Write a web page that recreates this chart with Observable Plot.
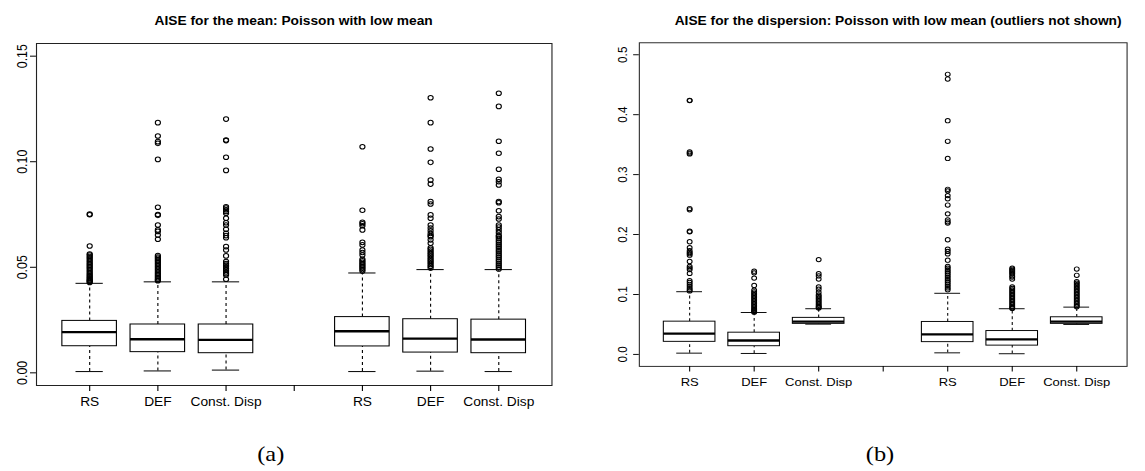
<!DOCTYPE html>
<html><head><meta charset="utf-8">
<script src="https://cdn.jsdelivr.net/npm/d3@7"></script>
<script src="https://cdn.jsdelivr.net/npm/@observablehq/plot@0.6"></script>
<style>
html,body{margin:0;padding:0;background:#fff;overflow:hidden;width:1145px;height:471px;}
#stage{position:absolute;left:0;top:0;width:1032px;height:471px;transform:scaleX(1.1097);transform-origin:0 0;font-family:"Liberation Sans",Arial,sans-serif;color:#000;}
.title{position:absolute;top:13px;font-weight:bold;font-size:12.4px;text-align:center;line-height:16px;white-space:nowrap;}
.cap{position:absolute;top:441px;font-family:"Liberation Serif","Times New Roman",serif;font-size:22px;line-height:26px;text-align:center;width:80px;}
.panel{position:absolute;top:30px;}
</style>
</head><body>
<div id="stage">
  <div class="title" id="titleA" style="left:32.4px;width:464.5px;">AISE for the mean: Poisson with low mean</div>
  <div class="title" id="titleB" style="left:577.1px;width:464.5px;">AISE for the dispersion: Poisson with low mean (outliers not shown)</div>
  <div class="panel" id="panelA" style="left:0px;"></div>
  <div class="panel" id="panelB" style="left:544.7px;"></div>
  <div class="cap" style="left:204px;">(a)</div>
  <div class="cap" style="left:753px;">(b)</div>
</div>
<script>
// ---------- data ----------
const groupLabels = ["RS", "DEF", "Const. Disp", "RS", "DEF", "Const. Disp"];

// Panel (a): AISE for the mean
const meanLower  = [0.0006, 0.0009, 0.0013, 0.0006, 0.0008, 0.0006];
const meanQ1     = [0.0126, 0.0098, 0.0093, 0.0125, 0.0096, 0.0093];
const meanMedian = [0.0193, 0.0159, 0.0156, 0.0197, 0.0162, 0.0158];
const meanQ3     = [0.0246, 0.0229, 0.0229, 0.0264, 0.0254, 0.0252];
const meanUpper  = [0.0424, 0.0431, 0.0431, 0.0473, 0.0489, 0.0489];
const meanOutliers = [
  [0.0752, 0.0749, 0.0601, 0.0563, 0.0558, 0.0551, 0.0545, 0.0538, 0.0531, 0.0524, 0.0517, 0.0510, 0.0503, 0.0496, 0.0489, 0.0482, 0.0475, 0.0468, 0.0462, 0.0456, 0.0450, 0.0445, 0.0440, 0.0436, 0.0432, 0.0428],
  [0.1185, 0.1122, 0.1095, 0.1087, 0.1011, 0.0784, 0.0750, 0.0746, 0.0700, 0.0677, 0.0670, 0.0653, 0.0633, 0.0555, 0.0549, 0.0542, 0.0535, 0.0528, 0.0521, 0.0514, 0.0507, 0.0500, 0.0493, 0.0486, 0.0479, 0.0472, 0.0465, 0.0458, 0.0451, 0.0445, 0.0440, 0.0436],
  [0.1202, 0.1103, 0.1100, 0.1021, 0.0959, 0.0787, 0.0780, 0.0772, 0.0764, 0.0756, 0.0732, 0.0711, 0.0700, 0.0680, 0.0661, 0.0650, 0.0640, 0.0598, 0.0582, 0.0554, 0.0527, 0.0518, 0.0510, 0.0502, 0.0494, 0.0486, 0.0478, 0.0470, 0.0464, 0.0443],
  [0.1071, 0.0770, 0.0713, 0.0706, 0.0697, 0.0677, 0.0618, 0.0606, 0.0582, 0.0570, 0.0558, 0.0538, 0.0531, 0.0524, 0.0517, 0.0510, 0.0503, 0.0496, 0.0489, 0.0482],
  [0.1303, 0.1185, 0.1060, 0.0997, 0.0913, 0.0894, 0.0811, 0.0800, 0.0748, 0.0732, 0.0700, 0.0686, 0.0673, 0.0660, 0.0650, 0.0645, 0.0630, 0.0614, 0.0592, 0.0585, 0.0577, 0.0569, 0.0561, 0.0553, 0.0545, 0.0537, 0.0529, 0.0521, 0.0513, 0.0505, 0.0497],
  [0.1324, 0.1262, 0.1097, 0.1040, 0.0964, 0.0917, 0.0905, 0.0890, 0.0811, 0.0806, 0.0768, 0.0740, 0.0729, 0.0700, 0.0690, 0.0677, 0.0664, 0.0650, 0.0645, 0.0636, 0.0627, 0.0618, 0.0609, 0.0600, 0.0591, 0.0582, 0.0573, 0.0564, 0.0555, 0.0546, 0.0537, 0.0528, 0.0519, 0.0510, 0.0501, 0.0492]
];
const meanLimits = [0, 0.15];
const meanTicks = [0, 0.05, 0.10, 0.15];
const meanTickLabels = ["0.00", "0.05", "0.10", "0.15"];

// Panel (b): AISE for the dispersion
const dispLower  = [0.0021, 0.0016, 0.0505, 0.0026, 0.0011, 0.0500];
const dispQ1     = [0.0210, 0.0137, 0.0510, 0.0205, 0.0147, 0.0510];
const dispMedian = [0.0347, 0.0232, 0.0547, 0.0336, 0.0252, 0.0547];
const dispQ3     = [0.0547, 0.0363, 0.0610, 0.0542, 0.0390, 0.0620];
const dispUpper  = [0.1046, 0.0699, 0.0762, 0.1020, 0.0762, 0.0789];
const dispOutliers = [
  [0.4240, 0.4235, 0.3380, 0.3360, 0.3346, 0.2434, 0.2413, 0.2055, 0.2045, 0.1880, 0.1780, 0.1730, 0.1700, 0.1680, 0.1656, 0.1550, 0.1467, 0.1440, 0.1415, 0.1352, 0.1230, 0.1200, 0.1170, 0.1140, 0.1110, 0.1080, 0.1060],
  [0.1388, 0.1361, 0.1273, 0.1151, 0.1073, 0.1045, 0.1020, 0.0995, 0.0970, 0.0945, 0.0920, 0.0895, 0.0870, 0.0845, 0.0820, 0.0795, 0.0770, 0.0750, 0.0730, 0.0715, 0.0705],
  [0.1582, 0.1346, 0.1310, 0.1257, 0.1125, 0.1088, 0.1036, 0.0994, 0.0970, 0.0945, 0.0920, 0.0895, 0.0870, 0.0845, 0.0820, 0.0800, 0.0785, 0.0773],
  [0.4674, 0.4595, 0.3900, 0.3556, 0.3270, 0.2755, 0.2729, 0.2650, 0.2597, 0.2492, 0.2345, 0.2245, 0.2213, 0.2192, 0.1913, 0.1755, 0.1719, 0.1677, 0.1572, 0.1467, 0.1440, 0.1410, 0.1380, 0.1350, 0.1320, 0.1290, 0.1260, 0.1230, 0.1200, 0.1170, 0.1140, 0.1110, 0.1080],
  [0.1440, 0.1420, 0.1400, 0.1380, 0.1360, 0.1340, 0.1310, 0.1290, 0.1257, 0.1125, 0.1100, 0.1075, 0.1050, 0.1025, 0.1000, 0.0975, 0.0950, 0.0925, 0.0900, 0.0875, 0.0850, 0.0825, 0.0800, 0.0780, 0.0768],
  [0.1424, 0.1320, 0.1214, 0.1190, 0.1165, 0.1140, 0.1115, 0.1090, 0.1065, 0.1040, 0.1015, 0.0990, 0.0965, 0.0940, 0.0915, 0.0890, 0.0865, 0.0840, 0.0815, 0.0795]
];
const dispLimits = [0, 0.5];
const dispTicks = [0, 0.1, 0.2, 0.3, 0.4, 0.5];
const dispTickLabels = ["0.0", "0.1", "0.2", "0.3", "0.4", "0.5"];

// ---------- drawing ----------
function slotOf(i) { return i < 3 ? i + 1 : i + 2; } // gap between the two groups of three
const slotTicks = [1, 2, 3, 4, 5, 6, 7];
function slotLabel(t) { const i = [0, 1, 2, null, 3, 4, 5][t - 1]; return i == null ? "" : groupLabels[i]; }

function boxPanel(stats, outliers, limits, yTicks, yTickLabels, yPad) {
  const rows = groupLabels.map((label, i) => ({
    label, slot: slotOf(i),
    lower: stats.lower[i], q1: stats.q1[i], median: stats.median[i], q3: stats.q3[i], upper: stats.upper[i]
  }));
  const pts = rows.flatMap((r, i) => outliers[i].map(v => ({slot: r.slot, value: v})));
  const half = 0.4, capHalf = 0.2;
  const xr = [0.5, 7.5], xe = 0.04 * (xr[1] - xr[0]);
  const ye = 0.04 * (limits[1] - limits[0]);
  return Plot.plot({
    width: 515, height: 390,
    marginLeft: 32.4, marginRight: 18.1, marginTop: 13, marginBottom: 35,
    style: {fontFamily: '"Liberation Sans", Arial, sans-serif', fontSize: "12.4px", background: "transparent", color: "#000", overflow: "visible"},
    x: {domain: [xr[0] - xe, xr[1] + xe]},
    y: {domain: [limits[0] - ye, limits[1] + ye]},
    marks: [
      Plot.ruleX(rows, {x: "slot", y1: "q3", y2: "upper", stroke: "#000", strokeDasharray: "3,3"}),
      Plot.ruleX(rows, {x: "slot", y1: "lower", y2: "q1", stroke: "#000", strokeDasharray: "3,3"}),
      Plot.ruleY(rows, {y: "upper", x1: d => d.slot - capHalf, x2: d => d.slot + capHalf, stroke: "#000"}),
      Plot.ruleY(rows, {y: "lower", x1: d => d.slot - capHalf, x2: d => d.slot + capHalf, stroke: "#000"}),
      Plot.rect(rows, {x1: d => d.slot - half, x2: d => d.slot + half, y1: "q1", y2: "q3", fill: "#fff", stroke: "#000", strokeWidth: 1}),
      Plot.ruleY(rows, {y: "median", x1: d => d.slot - half, x2: d => d.slot + half, stroke: "#000", strokeWidth: 2.4}),
      Plot.dot(pts, {x: "slot", y: "value", r: 2.3, stroke: "#000", strokeWidth: 1, fill: "none"}),
      Plot.frame({stroke: "#222"}),
      Plot.axisX({ticks: slotTicks, tickFormat: slotLabel, tickSize: 6, tickPadding: 6, label: null, fontSize: 12.4}),
      Plot.axisY({ticks: yTicks, tickFormat: d => yTickLabels[yTicks.indexOf(d)], tickRotate: -90, tickSize: 5.4, tickPadding: yPad, label: null, fontSize: 12.4})
    ]
  });
}

document.getElementById("panelA").append(
  boxPanel({lower: meanLower, q1: meanQ1, median: meanMedian, q3: meanQ3, upper: meanUpper}, meanOutliers, meanLimits, meanTicks, meanTickLabels, 3)
);
document.getElementById("panelB").append(
  boxPanel({lower: dispLower, q1: dispQ1, median: dispMedian, q3: dispQ3, upper: dispUpper}, dispOutliers, dispLimits, dispTicks, dispTickLabels, 6)
);
</script>
</body></html>
